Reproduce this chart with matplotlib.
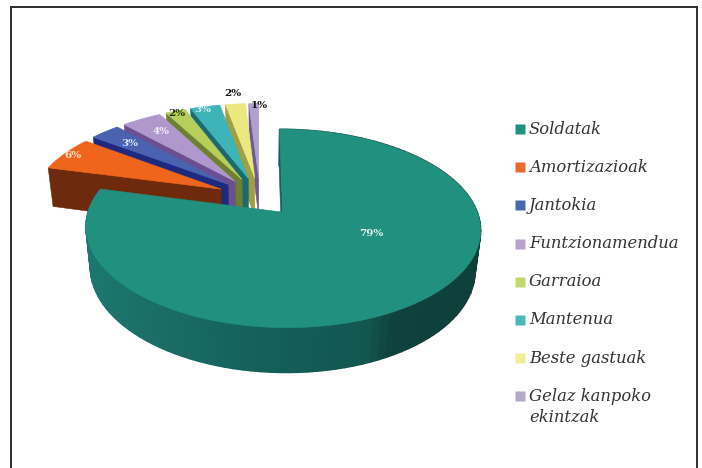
import numpy as np
import matplotlib
matplotlib.use("Agg")
import matplotlib.pyplot as plt
from matplotlib.patches import Polygon, Rectangle

categories = ["Soldatak", "Amortizazioak", "Jantokia", "Funtzionamendua",
              "Garraioa", "Mantenua", "Beste gastuak", "Gelaz kanpoko\nekintzak"]
values = [79, 6, 3, 4, 2, 3, 2, 1]
explode = [0.19, 0.23, 0.23, 0.23, 0.23, 0.23, 0.23, 0.23]
top_colors = ["#21907F", "#F0651C", "#4A62B0", "#B098CC", "#B5CF5A", "#3DB4B8", "#ECE880", "#B0A0CC"]
wall_colors = ["#15625A", "#6E2A0C", "#1E2A80", "#6A5090", "#6E8030", "#1A6A70", "#A0A040", "#705A90"]
legend_colors = ["#22917F", "#EE6A2B", "#4A68AE", "#B8A2CF", "#C4D870", "#4DB8B8", "#F0EE98", "#B2A8C8"]
label_colors = ["#E8F4F0", "#FBE3D0", "#DCE4F8", "#F2ECF8", "#22300A", "#D8F4F4", "#111111", "#111111"]
label_xy = [(371, 234), (73, 155), (130, 143), (161, 132), (177, 113), (203, 110), (233, 94), (259, 106)]

# perspective of the tilted pie
Cx, Cy, A, a, k, m, T = 260.0, 198.0, 190.0, 92.0, 0.16, 0.025, 41.0


def project(u, v, z=0.0):
    w = 1 + k * v + m * z
    return Cx + A * u / w, Cy - a * v / w + T * z / w


fig = plt.figure(figsize=(7.02, 4.68), dpi=100, facecolor="white")
ax = fig.add_axes([0, 0, 1, 1])
wedges, _ = ax.pie(values, explode=explode, startangle=90, counterclock=False, radius=1)
ax.set_aspect("auto")
ax.set_xlim(0, 702)
ax.set_ylim(468, 0)
ax.axis("off")


def add_poly(xs, ys, color, zorder, lw=0.4):
    ax.add_patch(Polygon(np.column_stack([xs, ys]), closed=True, facecolor=color,
                         edgecolor=color, linewidth=lw, zorder=zorder))


def rgb(c):
    return np.array(matplotlib.colors.to_rgb(c))


main_stops_u = [-1.0, -0.6, -0.1, 0.35, 0.48, 1.0]
main_stops_c = [rgb(c) for c in ["#1C7A70", "#1A6E66", "#14605A", "#135650", "#0F423D", "#0E3F3B"]]

order = list(range(len(values) - 1, -1, -1))
for n, i in enumerate(order):
    wd = wedges[i]
    cu, cv = wd.center
    r = wd.r
    t = np.radians(np.linspace(wd.theta1, wd.theta2, 120))
    us = cu + r * np.cos(t)
    vs = cv + r * np.sin(t)
    z = 2 * n + 2
    # radial wall on the side facing the viewer
    pu = np.array([cu, us[-1], us[-1], cu])
    pv = np.array([cv, vs[-1], vs[-1], cv])
    pz = np.array([0, 0, 1, 1])
    x, y = project(pu, pv, pz)
    add_poly(x, y, wall_colors[i], z)
    # rim wall (only the main slice shows its rim)
    if i == 0:
        for s in range(len(t) - 1):
            pu = np.array([us[s], us[s + 1], us[s + 1], us[s]])
            pv = np.array([vs[s], vs[s + 1], vs[s + 1], vs[s]])
            x, y = project(pu, pv, pz)
            um = np.cos(0.5 * (t[s] + t[s + 1]))
            col = tuple(np.interp(um, main_stops_u, [c[q] for c in main_stops_c]) for q in range(3))
            add_poly(x, y, col, z, lw=1.0)
    # top surface
    x, y = project(np.r_[cu, us], np.r_[cv, vs])
    add_poly(x, y, top_colors[i], z + 1)
    wd.set_visible(False)

for v, (lx, ly), c in zip(values, label_xy, label_colors):
    ax.text(lx, ly, f"{v}%", ha="center", va="center", color=c, fontsize=7.5,
            fontweight="bold", family="DejaVu Serif", zorder=60)

# legend
row0, row_step = 129.0, 38.2
for i, (name, col) in enumerate(zip(categories, legend_colors)):
    y = row0 + i * row_step
    ax.plot([519.5], [y], marker="s", ms=6.5, mec="none", color=col, zorder=60)
    ax.text(529, y - 8.5, name, ha="left", va="top", fontsize=11.8, style="italic",
            family="DejaVu Serif", color="#333333", linespacing=1.35, zorder=60)

# frame (open at the bottom)
border = "#333333"
ax.add_patch(Rectangle((9.5, 6), 688.4, 2.4, facecolor=border, edgecolor="none", zorder=70))
ax.add_patch(Rectangle((9.5, 6), 2.4, 470, facecolor=border, edgecolor="none", zorder=70))
ax.add_patch(Rectangle((695.5, 6), 2.4, 470, facecolor=border, edgecolor="none", zorder=70))

fig.savefig("out.png", dpi=100, facecolor="white")
